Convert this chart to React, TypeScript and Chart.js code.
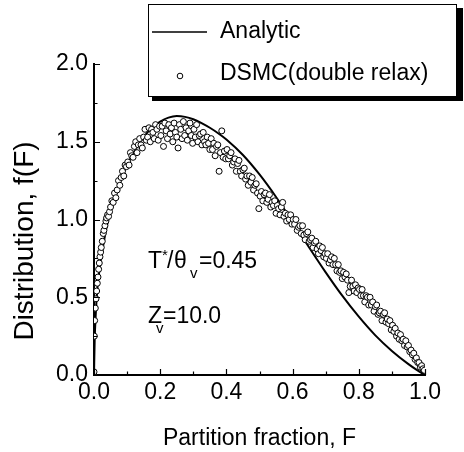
import React, { useEffect, useRef } from "react";
import { Chart, registerables } from "chart.js";

Chart.register(...registerables);

const FONT = "'Liberation Sans', Arial, Helvetica, sans-serif";

// Analytic curve
const analyticF = [0, 0.002, 0.005, 0.01, 0.015, 0.02, 0.03, 0.04, 0.05, 0.07, 0.1, 0.125, 0.15, 0.175, 0.2, 0.225, 0.25, 0.275, 0.3, 0.325, 0.35, 0.375, 0.4, 0.45, 0.5, 0.55, 0.6, 0.65, 0.7, 0.75, 0.8, 0.85, 0.9, 0.95, 0.975, 1.0];
const analyticVal = [0, 0.22, 0.38, 0.55, 0.65, 0.73, 0.86, 0.97, 1.05, 1.19, 1.35, 1.45, 1.53, 1.59, 1.63, 1.655, 1.665, 1.66, 1.645, 1.62, 1.59, 1.555, 1.515, 1.415, 1.29, 1.145, 0.985, 0.82, 0.66, 0.51, 0.375, 0.255, 0.155, 0.07, 0.033, 0.0];

// DSMC scatter
const dsmcF = [
  0.000, 0.001, 0.002, 0.004, 0.006, 0.008, 0.010, 0.012, 0.014, 0.016, 0.018, 0.020, 0.022, 0.025, 0.028, 0.030, 0.033, 0.036, 0.038, 0.041, 0.044, 0.047, 0.050,
  0.054, 0.058, 0.062, 0.066, 0.070, 0.074, 0.078, 0.082, 0.086, 0.090, 0.094, 0.098,
  0.102, 0.106, 0.110, 0.114, 0.118, 0.122, 0.126, 0.130, 0.134, 0.138, 0.142, 0.146, 0.150, 0.154, 0.158, 0.162, 0.166, 0.170, 0.174, 0.178, 0.182, 0.186, 0.190, 0.194, 0.198,
  0.202, 0.206, 0.210, 0.214, 0.218, 0.222, 0.226, 0.230, 0.234, 0.238, 0.242, 0.246, 0.250, 0.254, 0.258, 0.262, 0.266, 0.270, 0.274, 0.278, 0.282, 0.286, 0.290, 0.294, 0.298,
  0.302, 0.306, 0.310, 0.314, 0.318, 0.322, 0.326, 0.330, 0.334, 0.338, 0.342, 0.346, 0.350, 0.354, 0.358, 0.362, 0.366, 0.370, 0.374, 0.378, 0.382, 0.386, 0.390, 0.394, 0.398,
  0.402, 0.406, 0.410, 0.414, 0.418, 0.422, 0.426, 0.430, 0.434, 0.438, 0.442, 0.446, 0.450, 0.454, 0.458, 0.462, 0.466, 0.470, 0.474, 0.478, 0.482, 0.486, 0.490, 0.494, 0.498,
  0.502, 0.506, 0.510, 0.514, 0.518, 0.522, 0.526, 0.530, 0.534, 0.538, 0.542, 0.546, 0.550, 0.554, 0.558, 0.562, 0.566, 0.570, 0.574, 0.578, 0.582, 0.586, 0.590, 0.594, 0.598,
  0.602, 0.606, 0.610, 0.614, 0.618, 0.622, 0.626, 0.630, 0.634, 0.638, 0.642, 0.646, 0.650, 0.654, 0.658, 0.662, 0.666, 0.670, 0.674, 0.678, 0.682, 0.686, 0.690, 0.694, 0.698,
  0.702, 0.706, 0.710, 0.714, 0.718, 0.722, 0.726, 0.730, 0.734, 0.738, 0.742, 0.746, 0.750, 0.754, 0.758, 0.762, 0.766, 0.770, 0.774, 0.778, 0.782, 0.786, 0.790, 0.794, 0.798,
  0.802, 0.806, 0.810, 0.814, 0.818, 0.822, 0.826, 0.830, 0.834, 0.838, 0.842, 0.846, 0.850, 0.854, 0.858, 0.862, 0.866, 0.870, 0.874, 0.878, 0.882, 0.886, 0.890, 0.894, 0.898,
  0.902, 0.906, 0.910, 0.914, 0.918, 0.922, 0.926, 0.930, 0.934, 0.938, 0.942, 0.946, 0.950, 0.954, 0.958, 0.962, 0.966, 0.970, 0.974, 0.978, 0.982, 0.986, 0.990, 0.994, 0.998,
];
const dsmcVal = [
  0.02, 0.25, 0.35, 0.43, 0.49, 0.54, 0.59, 0.63, 0.68, 0.72, 0.76, 0.79, 0.82, 0.86, 0.91, 0.93, 0.96, 0.99, 1.01, 1.03, 1.02, 1.05, 1.08,
  1.12, 1.11, 1.17, 1.14, 1.19, 1.25, 1.22, 1.27, 1.31, 1.28, 1.35, 1.34,
  1.37, 1.35, 1.43, 1.41, 1.40, 1.47, 1.50, 1.43, 1.48, 1.52, 1.48, 1.46, 1.53, 1.58, 1.51, 1.53, 1.59, 1.50, 1.58, 1.56, 1.52, 1.61, 1.58, 1.51, 1.60,
  1.54, 1.60, 1.47, 1.62, 1.57, 1.52, 1.61, 1.55, 1.59, 1.50, 1.62, 1.56, 1.53, 1.46, 1.61, 1.58, 1.52, 1.63, 1.54, 1.59, 1.51, 1.57, 1.62, 1.54, 1.49,
  1.58, 1.53, 1.61, 1.50, 1.54, 1.55, 1.48, 1.56, 1.50, 1.48, 1.53, 1.49, 1.45, 1.52, 1.45, 1.49, 1.41, 1.47, 1.48, 1.31, 1.43, 1.57, 1.40, 1.44, 1.39,
  1.45, 1.39, 1.41, 1.43, 1.35, 1.37, 1.39, 1.31, 1.36, 1.38, 1.31, 1.28, 1.32, 1.33, 1.26, 1.28, 1.22, 1.28, 1.24, 1.27, 1.19, 1.22, 1.23, 1.17, 1.07,
  1.15, 1.18, 1.12, 1.16, 1.17, 1.11, 1.13, 1.16, 1.08, 1.11, 1.09, 1.12, 1.04, 1.09, 1.07, 1.03, 1.08, 1.11, 1.02, 1.04, 0.99, 1.03, 1.00, 1.03, 0.97,
  1.00, 0.97, 1.00, 0.93, 0.95, 0.96, 0.91, 0.96, 0.90, 0.87, 0.91, 0.92, 0.86, 0.87, 0.88, 0.82, 0.85, 0.86, 0.81, 0.78, 0.83, 0.80, 0.82, 0.76, 0.78,
  0.75, 0.78, 0.72, 0.74, 0.76, 0.71, 0.75, 0.71, 0.67, 0.71, 0.66, 0.67, 0.62, 0.66, 0.63, 0.65, 0.61, 0.53, 0.57, 0.61, 0.57, 0.54, 0.58, 0.53, 0.56,
  0.55, 0.51, 0.55, 0.51, 0.47, 0.51, 0.50, 0.45, 0.50, 0.45, 0.47, 0.41, 0.44, 0.45, 0.39, 0.40, 0.41, 0.35, 0.39, 0.40, 0.34, 0.36, 0.33, 0.35, 0.29,
  0.32, 0.28, 0.30, 0.25, 0.27, 0.23, 0.26, 0.22, 0.23, 0.19, 0.22, 0.18, 0.19, 0.15, 0.16, 0.13, 0.14, 0.10, 0.11, 0.08, 0.08, 0.05, 0.06, 0.04, 0.03,
];

const xMajorTicks = [0, 0.2, 0.4, 0.6, 0.8, 1.0];
const xMinorTicks = [0.1, 0.3, 0.5, 0.7, 0.9];
const yMajorTicks = [0, 0.5, 1.0, 1.5, 2.0];
const yMinorTicks = [0.25, 0.75, 1.25, 1.75];

const seriesNames = ["Analytic", "DSMC(double relax)"];
const xTitle = "Partition fraction, F";
const yTitle = "Distribution, f(F)";

// annotation anchors in data units
const annot1At = [0.163, 0.69];
const annot2At = [0.163, 0.335];

const decor = {
  id: "decor",
  afterDraw(chart: any) {
    const { ctx } = chart;
    const xs = chart.scales.x;
    const ys = chart.scales.y;
    ctx.save();
    // inward ticks
    ctx.strokeStyle = "#000";
    ctx.lineWidth = 1.2;
    const yBase = ys.getPixelForValue(0);
    const xBase = xs.getPixelForValue(0);
    ctx.beginPath();
    for (const t of xMajorTicks) {
      const px = Math.round(xs.getPixelForValue(t)) + 0.5;
      ctx.moveTo(px, yBase);
      ctx.lineTo(px, yBase - 6);
    }
    for (const t of xMinorTicks) {
      const px = Math.round(xs.getPixelForValue(t)) + 0.5;
      ctx.moveTo(px, yBase);
      ctx.lineTo(px, yBase - 3.5);
    }
    for (const t of yMajorTicks) {
      const py = Math.round(ys.getPixelForValue(t)) + 0.5;
      ctx.moveTo(xBase, py);
      ctx.lineTo(xBase + 6, py);
    }
    for (const t of yMinorTicks) {
      const py = Math.round(ys.getPixelForValue(t)) + 0.5;
      ctx.moveTo(xBase, py);
      ctx.lineTo(xBase + 3.5, py);
    }
    ctx.stroke();

    // y title
    ctx.save();
    ctx.translate(25, 241);
    ctx.rotate(-Math.PI / 2);
    ctx.font = `28px ${FONT}`;
    ctx.fillStyle = "#000";
    ctx.textAlign = "center";
    ctx.textBaseline = "middle";
    ctx.fillText(yTitle, 0, 0);
    ctx.restore();

    // annotations
    ctx.fillStyle = "#000";
    ctx.textAlign = "left";
    ctx.textBaseline = "alphabetic";
    const a1x = xs.getPixelForValue(annot1At[0]);
    const a1y = ys.getPixelForValue(annot1At[1]);
    ctx.font = `23px ${FONT}`;
    ctx.fillText("T", a1x, a1y);
    ctx.font = `15px ${FONT}`;
    ctx.fillText("*", a1x + 14, a1y - 8);
    ctx.font = `23px ${FONT}`;
    ctx.fillText("/", a1x + 19, a1y);
    ctx.fillText("θ", a1x + 26, a1y);
    ctx.font = `15px ${FONT}`;
    ctx.fillText("v", a1x + 42, a1y + 10);
    ctx.font = `23px ${FONT}`;
    ctx.fillText("=0.45", a1x + 51, a1y);

    const a2x = xs.getPixelForValue(annot2At[0]);
    const a2y = ys.getPixelForValue(annot2At[1]);
    ctx.fillText("Z", a2x, a2y);
    ctx.font = `15px ${FONT}`;
    ctx.fillText("v", a2x + 8, a2y + 10);
    ctx.font = `23px ${FONT}`;
    ctx.fillText("=10.0", a2x + 15, a2y);

    // legend box with shadow
    ctx.fillStyle = "#000";
    ctx.fillRect(152, 8, 311, 93);
    ctx.fillStyle = "#fff";
    ctx.fillRect(148, 4, 309, 93);
    ctx.strokeStyle = "#000";
    ctx.lineWidth = 1;
    ctx.strokeRect(148.5, 4.5, 308, 92);
    ctx.lineWidth = 1.6;
    ctx.beginPath();
    ctx.moveTo(152, 32);
    ctx.lineTo(207, 32);
    ctx.stroke();
    ctx.beginPath();
    ctx.arc(180, 76, 2.8, 0, Math.PI * 2);
    ctx.fillStyle = "#fff";
    ctx.fill();
    ctx.lineWidth = 1;
    ctx.stroke();
    ctx.fillStyle = "#000";
    ctx.font = `23px ${FONT}`;
    ctx.fillText(seriesNames[0], 220, 38);
    ctx.fillText(seriesNames[1], 220, 80);
    ctx.restore();
  },
};

export default function App() {
  const ref = useRef<HTMLCanvasElement>(null);
  useEffect(() => {
    if (!ref.current) return;
    Chart.defaults.font.family = FONT;
    const chart = new Chart(ref.current, {
      type: "scatter",
      data: {
        datasets: [
          {
            label: seriesNames[1],
            data: dsmcF.map((f, i) => ({ x: f, y: dsmcVal[i] })),
            pointRadius: 3,
            pointBorderWidth: 1,
            pointBackgroundColor: "#fff",
            pointBorderColor: "#000",
            showLine: false,
            order: 0,
          },
          {
            label: seriesNames[0],
            data: analyticF.map((f, i) => ({ x: f, y: analyticVal[i] })),
            showLine: true,
            pointRadius: 0,
            borderColor: "#000",
            borderWidth: 2,
            cubicInterpolationMode: "monotone",
            order: 1,
          },
        ],
      },
      options: {
        animation: false,
        responsive: false,
        events: [],
        layout: { padding: { left: 0, top: 64, right: 39, bottom: 0 } },
        plugins: { legend: { display: false }, tooltip: { enabled: false } },
        scales: {
          x: {
            type: "linear",
            min: 0,
            max: 1,
            afterBuildTicks: (s: any) => {
              s.ticks = xMajorTicks.map((v) => ({ value: v }));
            },
            afterFit: (s: any) => {
              s.height = 77;
            },
            ticks: {
              callback: (v: any) => Number(v).toFixed(1),
              font: { size: 23, family: FONT },
              color: "#000",
              padding: 4,
              maxRotation: 0,
              autoSkip: false,
            },
            grid: { display: true, drawOnChartArea: false, drawTicks: false },
            border: { display: true, color: "#000", width: 2 },
            title: {
              display: true,
              text: xTitle,
              color: "#000",
              font: { size: 23, family: FONT },
              padding: { top: 0, bottom: 0 },
            },
          },
          y: {
            type: "linear",
            min: 0,
            max: 2,
            afterBuildTicks: (s: any) => {
              s.ticks = yMajorTicks.map((v) => ({ value: v }));
            },
            afterFit: (s: any) => {
              s.width = 94;
            },
            ticks: {
              callback: (v: any) => Number(v).toFixed(1),
              font: { size: 23, family: FONT },
              color: "#000",
              padding: 6,
              autoSkip: false,
            },
            grid: { display: true, drawOnChartArea: false, drawTicks: false },
            border: { display: true, color: "#000", width: 2 },
          },
        },
      },
      plugins: [decor],
    });
    return () => chart.destroy();
  }, []);
  return (
    <div style={{ position: "absolute", left: 0, top: 0, width: 464, height: 452, background: "#fff" }}>
      <canvas ref={ref} width={464} height={452} style={{ width: 464, height: 452, display: "block" }} />
    </div>
  );
}
